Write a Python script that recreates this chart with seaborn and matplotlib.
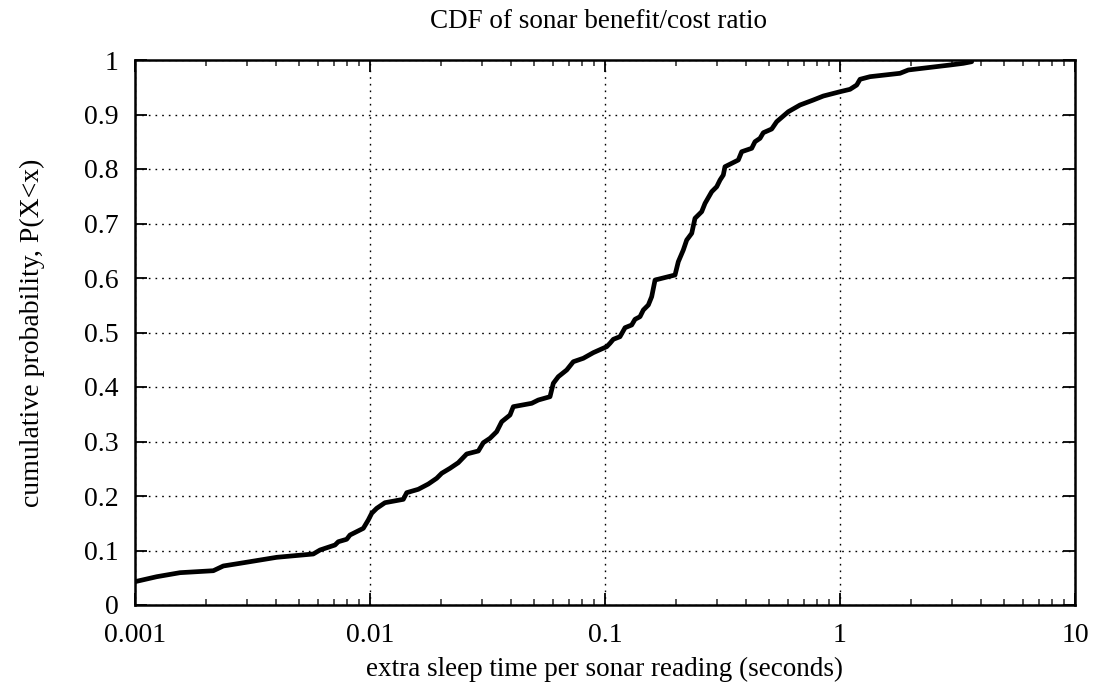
import numpy as np
import pandas as pd
import matplotlib
matplotlib.use("Agg")
import matplotlib.pyplot as plt
import seaborn as sns
from matplotlib.ticker import LogLocator, FixedLocator, NullFormatter

# ---- data ----
sleep_time = [0.001, 0.001237, 0.001554, 0.002154, 0.002376, 0.002798, 0.004009, 0.005737,
              0.006128, 0.007098, 0.007331, 0.007958, 0.008219, 0.009366, 0.009834, 0.01017,
              0.01068, 0.01158, 0.01386, 0.01433, 0.01605, 0.01771, 0.01922, 0.02019, 0.02189,
              0.02375, 0.02579, 0.02891, 0.03035, 0.03240, 0.03459, 0.03635, 0.03942, 0.04072,
              0.04877, 0.05202, 0.05834, 0.06026, 0.06328, 0.06871, 0.07332, 0.08085, 0.08917,
              0.1017, 0.1050, 0.1085, 0.1158, 0.1217, 0.1299, 0.1342, 0.1409, 0.1456, 0.1529,
              0.1580, 0.1633, 0.1986, 0.2051, 0.2154, 0.2227, 0.2339, 0.2415, 0.2579, 0.2665,
              0.2845, 0.2988, 0.3087, 0.3187, 0.3240, 0.3692, 0.3817, 0.4210, 0.4348, 0.4567,
              0.4717, 0.5122, 0.5378, 0.6026, 0.6757, 0.7698, 0.8492, 1.0, 1.103, 1.178, 1.217,
              1.342, 1.800, 1.953, 2.938, 3.347, 3.635]
cum_prob = [0.0428, 0.0519, 0.0593, 0.0629, 0.0716, 0.0765, 0.0875, 0.0936,
            0.1009, 0.1101, 0.1161, 0.1206, 0.1284, 0.1407, 0.1560, 0.1683,
            0.1774, 0.1877, 0.1939, 0.2061, 0.2123, 0.2220, 0.2325, 0.2417, 0.2508,
            0.2611, 0.2771, 0.2826, 0.2978, 0.3059, 0.3180, 0.3363, 0.3486, 0.3639,
            0.3701, 0.3761, 0.3822, 0.4068, 0.4189, 0.4312, 0.4464, 0.4527, 0.4630,
            0.4740, 0.4802, 0.4875, 0.4923, 0.5088, 0.5138, 0.5242, 0.5290, 0.5413, 0.5505,
            0.5657, 0.5963, 0.6055, 0.6299, 0.6514, 0.6697, 0.6820, 0.7095, 0.7217, 0.7370,
            0.7583, 0.7675, 0.7798, 0.7890, 0.8042, 0.8165, 0.8317, 0.8380, 0.8501, 0.8563,
            0.8666, 0.8734, 0.8868, 0.9051, 0.9174, 0.9266, 0.9339, 0.9418, 0.9462, 0.9541, 0.9646,
            0.9694, 0.9756, 0.9817, 0.9908, 0.9939, 0.9969]

x_ticks = [0.001, 0.01, 0.1, 1, 10]
x_tick_labels = ["0.001", "0.01", "0.1", "1", "10"]
y_ticks = [0, 0.1, 0.2, 0.3, 0.4, 0.5, 0.6, 0.7, 0.8, 0.9, 1]
y_tick_labels = ["0", "0.1", "0.2", "0.3", "0.4", "0.5", "0.6", "0.7", "0.8", "0.9", "1"]

title = "CDF of sonar benefit/cost ratio"
x_label = "extra sleep time per sonar reading (seconds)"
y_label = "cumulative probability, P(X<x)"

df = pd.DataFrame({"x": sleep_time, "y": cum_prob})

sns.set_theme(style="white")
plt.rcParams["font.family"] = ["Liberation Serif", "DejaVu Serif"]

fig = plt.figure(figsize=(10.96, 6.91), dpi=100)
ax = fig.add_axes([135 / 1096, 1 - 605 / 691, (1075 - 135) / 1096, (605 - 60) / 691])

sns.lineplot(data=df, x="x", y="y", ax=ax, color="black", linewidth=3.4,
             estimator=None, sort=False)

ax.set_xscale("log")
ax.set_xlim(0.001, 10)
ax.set_ylim(0, 1)

ax.xaxis.set_major_locator(FixedLocator(x_ticks))
ax.set_xticklabels(x_tick_labels)
ax.xaxis.set_minor_locator(LogLocator(base=10, subs=np.arange(2, 10)))
ax.xaxis.set_minor_formatter(NullFormatter())
ax.set_yticks(y_ticks)
ax.set_yticklabels(y_tick_labels)

ax.grid(True, which="major", color="black", linestyle=(0, (1.2, 3.6)), linewidth=1.0)
ax.grid(False, which="minor")

for s in ax.spines.values():
    s.set_visible(True)
    s.set_color("black")
    s.set_linewidth(1.8)

ax.tick_params(axis="both", which="major", direction="in", length=8.5, width=1.3,
               top=True, right=True, bottom=True, left=True, labelsize=20,
               colors="black")
ax.tick_params(axis="x", which="major", pad=13)
ax.tick_params(axis="y", which="major", pad=12)
ax.tick_params(axis="x", which="minor", direction="in", length=4.5, width=1.1,
               top=True, bottom=True)

ax.set_xlabel(x_label, fontsize=19.5, labelpad=6, color="black")
ax.set_ylabel(y_label, fontsize=20, labelpad=28, color="black")
fig.text(599 / 1096, 1 - 22 / 691, title, ha="center", va="center", fontsize=19.5, color="black")

fig.savefig("out.png", dpi=100, facecolor="white")
